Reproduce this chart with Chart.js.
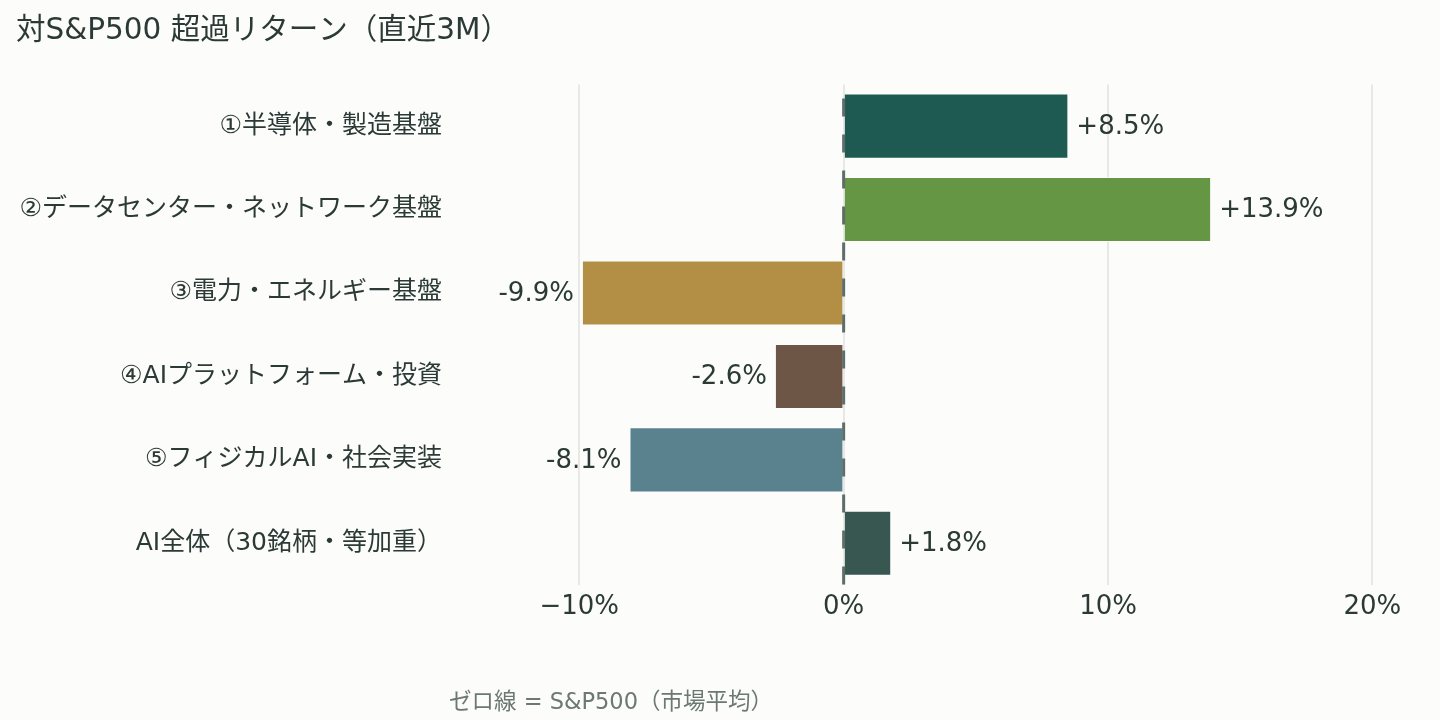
<!DOCTYPE html>
<html>
<head>
<meta charset="utf-8">
<script src="https://cdn.jsdelivr.net/npm/chart.js@4"></script>
<style>
  html, body { margin: 0; padding: 0; background: #fcfcfa; }
  #wrap { width: 1440px; height: 720px; }
</style>
</head>
<body>
<div id="wrap"><canvas id="myChart" width="1440" height="720"></canvas></div>
<script>
const categories = [
  '①半導体・製造基盤',
  '②データセンター・ネットワーク基盤',
  '③電力・エネルギー基盤',
  '④AIプラットフォーム・投資',
  '⑤フィジカルAI・社会実装',
  'AI全体（30銘柄・等加重）'
]
const excessReturn = [8.5, 13.9, -9.9, -2.6, -8.1, 1.8]
const barColors = ['#1f5a52', '#659644', '#b38f45', '#6e5647', '#59828e', '#385750']
const xTicks = [-10, 0, 10, 20]

const FONT = '"DejaVu Sans", "Noto Sans CJK JP", sans-serif'
const TEXT = '#2b3a37'

// dashed zero line + value labels + footnote
const extras = {
  id: 'extras',
  afterDatasetsDraw(chart) {
    const ctx = chart.ctx
    const x = chart.scales.x
    const area = chart.chartArea
    const x0 = x.getPixelForValue(0)

    ctx.save()
    ctx.strokeStyle = '#5d6d69'
    ctx.lineWidth = 3
    ctx.setLineDash([18, 18])
    ctx.lineDashOffset = 22
    ctx.beginPath()
    ctx.moveTo(x0, area.top)
    ctx.lineTo(x0, area.bottom)
    ctx.stroke()
    ctx.restore()

    const meta = chart.getDatasetMeta(0)
    ctx.save()
    ctx.font = '26px ' + FONT
    ctx.fillStyle = TEXT
    ctx.textBaseline = 'middle'
    meta.data.forEach((bar, i) => {
      const v = excessReturn[i]
      const txt = (v > 0 ? '+' : '') + v.toFixed(1) + '%'
      if (v >= 0) {
        ctx.textAlign = 'left'
        ctx.fillText(txt, bar.x + 8, bar.y + 1)
      } else {
        ctx.textAlign = 'right'
        ctx.fillText(txt, bar.x - 8, bar.y + 1)
      }
    })
    ctx.restore()

    ctx.save()
    ctx.font = '22.5px ' + FONT
    ctx.fillStyle = '#6b7874'
    ctx.textAlign = 'left'
    ctx.textBaseline = 'middle'
    ctx.fillText('ゼロ線 = S&P500（市場平均）', area.left - 6, 703)
    ctx.restore()
  }
}

const chartInstance = new Chart(document.getElementById('myChart'), {
  type: 'bar',
  data: {
    labels: categories,
    datasets: [{
      data: excessReturn,
      backgroundColor: barColors,
      borderColor: 'rgba(255,255,255,0.7)',
      borderWidth: 1,
      barPercentage: 0.78,
      categoryPercentage: 1
    }]
  },
  options: {
    indexAxis: 'y',
    responsive: false,
    devicePixelRatio: 1,
    animation: false,
    layout: { padding: { left: 16, right: 20, top: 0, bottom: 0 } },
    scales: {
      x: {
        min: -14.7,
        max: 21.8,
        afterBuildTicks(scale) {
          scale.ticks = xTicks.map(v => ({ value: v }))
        },
        afterFit(scale) { scale.height = 135 },
        grid: { color: '#e8e8e6', lineWidth: 2, drawTicks: false },
        border: { display: false },
        ticks: {
          padding: 7,
          color: TEXT,
          font: { family: FONT, size: 26 },
          callback: v => (v < 0 ? '\u2212' + Math.abs(v) : v) + '%'
        }
      },
      y: {
        afterFit(scale) { scale.width = 439 },
        grid: { display: false, drawTicks: false },
        border: { display: false },
        ticks: {
          padding: 13,
          color: TEXT,
          font: { family: FONT, size: 25 }
        }
      }
    },
    plugins: {
      legend: { display: false },
      tooltip: { enabled: false },
      title: {
        display: true,
        text: '対S&P500 超過リターン（直近3M）',
        align: 'start',
        color: TEXT,
        font: { family: FONT, size: 29.5, weight: 'normal' },
        padding: { top: 14, bottom: 35 }
      }
    }
  },
  plugins: [extras]
})
</script>
</body>
</html>
